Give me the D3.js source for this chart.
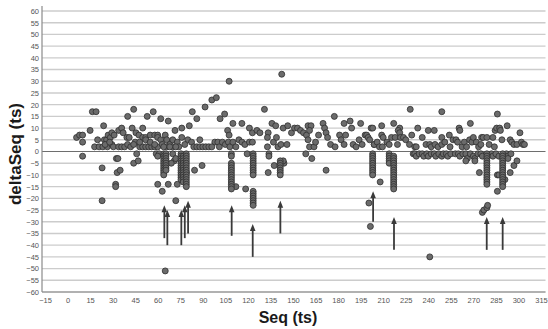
<!DOCTYPE html>
<html>
<head>
<meta charset="utf-8">
<script src="https://cdn.jsdelivr.net/npm/d3@7"></script>
<style>
  body { margin: 0; background: #fff; }
  svg { display: block; font-family: "Liberation Sans", Arial, sans-serif; }
</style>
</head>
<body>
<svg id="chart" width="548" height="329"></svg>
<script>
// tick labels
const xTicks = [-15, 0, 15, 30, 45, 60, 75, 90, 105, 120, 135, 150, 165, 180, 195, 210, 225, 240, 255, 270, 285, 300, 315]
const yTicks = [-60, -55, -50, -45, -40, -35, -30, -25, -20, -15, -10, -5, 0, 5, 10, 15, 20, 25, 30, 35, 40, 45, 50, 55, 60]

// scattered samples [seq, deltaSeq]
const scatterPts = [
  [6,6],[8,7],[10,7],[10,4],[10,-2],[15,9],[16.5,17],[19,17],[18,2],[20,5],[21,2],[23,-7],[23,-21],[24,11],[24.5,5],
  [23.5,2],[26,5],[27,7],[26.5,2],[28.5,6],[29.5,8],[29.5,3],[31,7],[30.5,2],[32.5,-3],[33.5,-3],[33,-9],[35,-8],
  [32,-14],[32,-15],[34,9],[36,10],[37,8],[34,2],[36,2],[38,2],[40,15],[44,18],[39.5,6],[41,6],[43,10],[45.5,8],
  [44,-5],[47,-4],[46,-1],[47.5,7],[50,6],[52,6],[50,10],[48,2],[50,2],[52,2],[54,2],[53,15],[57,17],[55,7],[58,7],
  [60,7],[56,2],[58,2],[60,2],[62,14],[67,13],[45,4],[48,4],[52,5],[55,4],[58,3],[60,6],[62,5],[63,3],[65,7],[66,5],
  [68,3],[70,5],[40,3],[42,2],[44,3],[25,3],[28,4],
  [59,-1],[61,-1],[60,-2],[60,-14],[63,-17],[67,-14],[65,-51],[70,-1],[71,-4],[69,-5],[72,-3],[73,-14],[72,-21],
  [79,-9],[84.5,-8],[89.5,-6],
  [71.5,9],[73,4],[76,10],[80,5],[82.5,4],[83,17],[86,14],[88,5],[84,2],[86,2],[88,2],[90,2],[92,2],[91.5,19],[96,22],
  [99,23],[98,4],[100,4],[101.5,14],[74,2],[70,2],[72,2],[66,2],[68,2],[64,2],[76,6],[78,3],[81,11],[94,2],[96,2],
  [104.5,16],[106.5,9],[107.5,7],[107.5,30],[101,2],[103,4],[105,3],[107,4],[108,2],[110,4],[112,2],[114,5],[116,4],
  [118,3],[110,12],[116,12],[121,10],[121,4],[123,4],[123,8],[126,9],[128,8],[131,18],[133.5,8],[133,6],[133,2],
  [136,12],[138.5,11],[137,4],[139,6],[140,2],[142,3],[143.5,10],[146.5,11],[146,3],[142.5,33],
  [149,8],[151,10],[153,10],[155,9],[157,8],[159,7],[160,5],[160,11],[162,11],[161,9],[161,2],[164,2],[165,4],[167,7],
  [170,12],[171,10],[172,8],[173,6],[177.5,15],[175,3],[178,2],[181,7],[182,5],[184,3],[184,12],[185,7],[188,13],
  [189,10],[190,3],[192,2],[194,5],[195,12],[196,3],[198,7],[199,7],[200,6],[202,10],[204,3],
  [112,-15],[118.5,-16],[119.5,-1],[133.5,-9],[134,-1],[134,-2],[137.5,-6],[144,-5],[143.5,-4],[158.5,-1],[162.5,-3],
  [172,-8],[200.5,-22],[201.5,-32],[208,-13],
  [203,10],[228,18],[249,17],[286,16],[209,11],[209,7],[210,6],[217,12],[221,10],[220,9],[221,8],[201,5],[204,3],
  [206,4],[207.5,2],[209.5,2],[212.5,4],[214,3],[215.5,6],[218,6],[219.5,3],[221.5,6],[223.5,6],[225,5],[227.5,3],
  [229,7],[231,2],[232,2],[233,10],[236,6],[238.5,3],[240,9],[241,3],[242,2],[244,9],[244.5,3],[246.5,2],[249,6],
  [249,3],[251,4],[254,7],[254.5,2],[256.5,5],[258.5,5],[259.5,4],[260.5,10],[261,9],[262.5,2],[264,4],[265.5,2],
  [267.5,5],[268,12],[269,4],[270,6],[272,4],[273.5,2],[275,3],[275.5,6],[276.5,6],[279,6],[280.5,3],[283,6],[284,2],
  [284.5,9],[285.5,10],[287.5,10],[288,9],[289,5],[292.5,11],[294.5,5],[295.5,4],[297,3],[299,3],[301,8],[302,4],
  [303,3],[304,3],
  [230,-1],[231,-1],[232,-2],[234,-1],[236,-1],[237,-2],[239,-1],[240,-2],[242,-1],[244,-1],[245,-2],[247,-1],[249,-2],
  [250,-1],[252,-1],[253,-2],[255,-1],[258,-1],[260,-1],[261,-2],[263,-1],[265,-1],[266,-3],[268,-1],[270,-2],[271,-3],
  [273,-1],[275,-1],[276,-2],[282,-1],[283,-2],[285,-1],[287,-2],[292,-1],[293,-2],[295,-1],
  [265,-4],[271,-4],[274,-9],[276,-26],[277,-25],[279,-24],[279.5,-23],[286,-17],[286,-10],[287,-10],
  [291,-12],[293,-3],[294.5,-9],[297,-6],[299,-4],[241,-45]
]

// vertical runs of samples at the same seq
const stackSeq = [64, 65.5, 75.5, 77, 79, 109, 123.5, 141.5, 203, 214, 217, 279, 289.5]
const stackDeltas = [
  [-1,-2,-3,-4,-5,-6,-7,-8,-9,-10],
  [-1,-2,-3,-4,-5,-6,-7,-8],
  [-1,-2,-3,-4,-5,-6,-7,-8,-9,-10,-11,-12],
  [-2,-3,-4,-5,-6,-7,-8,-9,-10,-11,-12,-13],
  [-1,-2,-3,-4,-5,-6,-7,-8,-9,-10,-11,-12,-13,-14,-15],
  [-1,-2,-5,-6,-7,-8,-9,-10,-11,-12,-13,-14,-15,-16],
  [-1,-2,-3,-4,-5,-6,-7,-8,-9,-10,-17,-18,-19,-20,-21,-22,-23],
  [-4,-5,-6,-7,-8,-9,-10],
  [-1,-2,-3,-4,-5,-6,-7,-8,-9,-10],
  [-1,-2,-3,-4,-5],
  [-2,-3,-4,-5,-6,-7,-8,-9,-10,-11,-12,-13,-14,-15,-16],
  [-1,-2,-3,-4,-5,-6,-7,-8,-9,-10,-11,-12,-13,-14],
  [-1,-2,-3,-4,-5,-6,-7,-8,-9,-10,-11,-12,-13,-14,-15]
]

// annotation arrows [seq, tail delta, tip delta]
const arrowSeq  = [64.4, 66.4, 75.7, 78, 80.2, 109.2, 123.2, 141.6, 203.3, 217.2, 278.9, 289.5]
const arrowTail = [-37, -40, -40, -37, -35, -36, -45, -35, -30, -42, -42, -42]
const arrowTip  = [-23, -25, -25, -23, -21, -23, -31, -21, -17, -28, -28, -28]

const svg = d3.select('#chart')
const x = d3.scaleLinear().domain([-17, 318]).range([42, 545.5])
const y = d3.scaleLinear().domain([-60, 60]).range([292, 11])

// grid lines
svg.append('g')
  .selectAll('line')
  .data(yTicks)
  .enter()
  .append('line')
  .attr('x1', x(-17)).attr('x2', x(318))
  .attr('y1', d => y(d)).attr('y2', d => y(d))
  .style('stroke', d => d === 0 ? '#6e6e6e' : '#cccccc')
  .style('stroke-width', d => d === 0 ? 1.2 : 1.4)

// axes (labels only, lines drawn below)
const yAxis = svg.append('g')
  .attr('transform', 'translate(42,0)')
  .call(d3.axisLeft(y).tickValues(yTicks).tickSize(0).tickPadding(3))
yAxis.select('.domain').remove()
yAxis.selectAll('text').style('font-size', '7.5px').style('fill', '#555')

const xAxis = svg.append('g')
  .attr('transform', 'translate(0,292)')
  .call(d3.axisBottom(x).tickValues(xTicks).tickSize(0).tickPadding(6))
xAxis.select('.domain').remove()
xAxis.selectAll('text').style('font-size', '7.5px').style('fill', '#555')

svg.append('line')
  .attr('x1', 42).attr('x2', 42).attr('y1', 6).attr('y2', 292)
  .style('stroke', '#8a8a8a').style('stroke-width', 1.2)
svg.append('line')
  .attr('x1', 42).attr('x2', x(318)).attr('y1', 292).attr('y2', 292)
  .style('stroke', '#8a8a8a').style('stroke-width', 1.2)

// all samples
const allPts = scatterPts.slice()
stackSeq.forEach((s, i) => stackDeltas[i].forEach(d => allPts.push([s, d])))

svg.append('g')
  .selectAll('circle')
  .data(allPts)
  .enter()
  .append('circle')
  .attr('cx', d => x(d[0]))
  .attr('cy', d => y(d[1]))
  .attr('r', 3)
  .style('fill', '#6b6b6b')
  .style('stroke', '#2f2f2f')
  .style('stroke-width', 0.8)

// arrows
const arr = svg.append('g')
arrowSeq.forEach((s, i) => {
  const ax = x(s), ty = y(arrowTip[i]), by = y(arrowTail[i])
  arr.append('line')
    .attr('x1', ax).attr('x2', ax).attr('y1', by).attr('y2', ty + 5)
    .style('stroke', '#3a3a3a').style('stroke-width', 1.8)
  arr.append('path')
    .attr('d', `M${ax},${ty} L${ax - 2.8},${ty + 7} L${ax + 2.8},${ty + 7} Z`)
    .style('fill', '#3a3a3a')
})

// axis titles
svg.append('text')
  .attr('transform', 'translate(21,154) rotate(-90)')
  .attr('text-anchor', 'middle')
  .style('font-size', '17px').style('font-weight', 'bold').style('fill', '#1a1a1a')
  .text('deltaSeq (ts)')

svg.append('text')
  .attr('x', 288).attr('y', 323)
  .attr('text-anchor', 'middle')
  .style('font-size', '16px').style('font-weight', 'bold').style('fill', '#1a1a1a')
  .text('Seq (ts)')
</script>
</body>
</html>
